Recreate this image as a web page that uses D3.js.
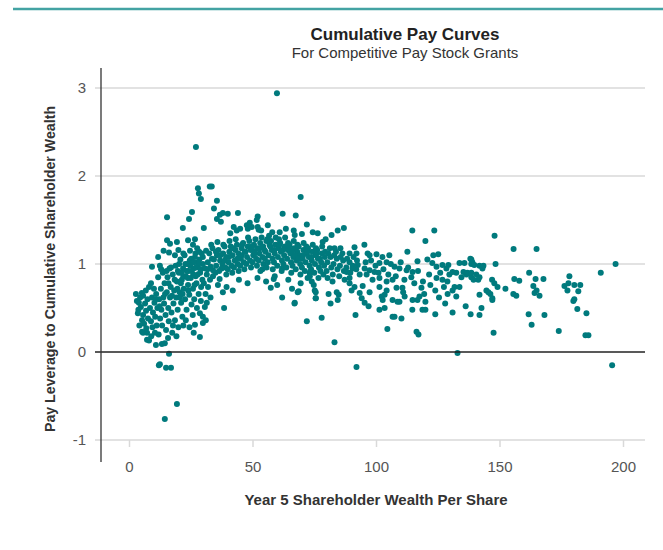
<!DOCTYPE html>
<html>
<head>
<meta charset="utf-8">
<script src="https://cdn.jsdelivr.net/npm/d3@7"></script>
<style>
  body { margin: 0; background: #fff; }
  text { font-family: "Liberation Sans", Arial, sans-serif; }
</style>
</head>
<body>
<div id="chart"></div>
<script>
// points, [wealth per share, pay leverage]
var lowWealth = [
  [2.8,0.66],[5.2,0.67],[5.7,0.64],[8.9,0.78],[8.1,0.74],[4.0,0.56],[4.8,0.51],[3.6,0.44],[5.7,0.42],[5.3,0.36],
  [6.1,0.32],[5.3,0.23],[5.7,0.22],[7.3,0.22],[7.3,0.14],[8.1,0.13],[10.9,0.08],[13.3,0.09],[14.5,0.10],[10.5,0.22],
  [15.8,0.16],[16.2,-0.02],[12.1,-0.15],[12.5,-0.14],[15.0,-0.18],[17.0,-0.18],[19.4,-0.59],[14.5,-0.76],[28.7,0.17],[29.9,0.33],
  [31.1,0.36],[28.7,0.44],[29.9,0.40],[26.7,0.31],
  [3.2,0.58],[3.8,0.48],[4.5,0.62],[4.2,0.30],[6.5,0.55],[6.9,0.47],[7.5,0.60],[7.7,0.38],[6.8,0.70],[7.0,0.27],
  [8.5,0.50],[8.9,0.35],[9.3,0.62],[9.7,0.45],[9.5,0.28],[9.0,0.18],[10.1,0.72],[10.3,0.56],[10.6,0.40],[11.0,0.66],
  [11.2,0.30],[11.5,0.50],[11.8,0.85],[12.0,0.20],[12.2,0.60],[12.6,0.38],[12.9,0.72],[13.1,0.48],[13.4,0.30],[13.7,0.90],
  [13.9,0.62],[14.2,0.55],[14.4,0.78],[14.8,0.42],[15.0,0.25],[15.3,0.68],[15.6,0.85],[15.9,0.50],[16.1,0.35],[16.4,0.95],
  [16.6,0.62],[16.9,0.74],[17.2,0.45],[17.5,0.22],[17.7,0.88],[18.0,0.55],[18.3,0.70],[18.6,0.36],[18.9,0.98],[19.1,0.62],
  [19.4,0.80],[19.7,0.48],[20.0,0.28],[20.2,0.90],[20.5,0.68],[20.8,1.05],[21.1,0.56],[21.4,0.82],[21.6,0.40],[21.9,0.95],
  [22.2,0.72],[22.5,1.10],[22.7,0.60],[23.0,0.86],[23.3,0.48],[23.6,1.00],[23.9,0.76],[24.1,0.92],[24.4,0.65],[24.7,1.15],
  [25.0,0.84],[25.3,0.54],[25.6,1.02],[25.9,0.72],[26.1,0.95],[26.4,0.60],[26.7,1.08],[27.0,0.86],[27.3,0.78],[27.6,1.18],
  [27.9,0.98],[28.2,0.66],[28.5,1.05],[28.8,0.90],[29.1,0.58],[29.4,1.12],[29.7,0.82],[29.9,1.00],
  [18.5,0.82],[19.8,0.92],[21.0,0.78],[22.0,0.86],[23.4,0.92],[24.8,0.98],[26.0,0.88],[27.2,0.96],[28.0,1.02],[29.0,0.94],
  [20.3,1.00],[22.8,1.00],[25.2,1.06],[26.9,1.12],[28.4,1.14],[21.7,0.66],[24.0,0.70],[26.5,0.76],[29.2,0.74],[23.0,0.36],
  [25.8,0.42],[27.5,0.50],[24.5,0.28],[22.0,0.30],[19.2,0.18],[17.8,0.30],[26.2,0.22],
  [10.8,0.60],[12.4,0.52],[14.6,0.66],[16.0,0.78],[17.4,0.64],[19.6,0.72],[21.2,0.90],[23.8,0.84],[25.4,0.92],[27.8,0.88],
  [17.0,0.96],[15.2,0.92],[20.6,0.62],[24.6,1.04],[26.2,1.02],
  [27.1,2.33],[27.9,1.86],[28.3,1.80],[29.1,1.74],[25.5,1.59],[24.3,1.51],[15.4,1.53],[21.8,1.41],[15.4,1.27],[16.6,1.23],
  [19.4,1.25],[23.9,1.27],[26.7,1.28],[25.9,1.22],[16.2,1.13],[9.3,0.97],[13.0,0.94],[14.0,1.15],[11.8,1.08],[20.0,1.16],
  [22.0,1.12],[12.5,0.98],[18.6,1.10]
];

var midWealth = [
  [32.7,1.88],[33.5,1.88],[35.6,1.72],[34.4,1.63],[69.5,1.76],[62.2,1.57],[67.5,1.55],[72.0,1.45],[76.4,1.35],[44.1,1.58],
  [36.8,1.56],[38.0,1.58],[40.0,1.57],[35.6,1.51],[37.2,1.48],[42.4,1.42],[43.6,1.38],[52.1,1.54],[51.7,1.50],[56.2,1.44],
  [47.7,1.44],[48.9,1.47],[48.1,1.40],[49.7,1.42],[52.1,1.42],[52.5,1.39],[66.7,1.38],[67.1,1.33],[61.0,1.36],[30.3,1.41],
  [57.4,0.73],[58.6,0.83],[59.0,0.86],[68.3,0.68],[67.1,0.56],[72.3,0.84],[73.1,0.90],[74.8,0.76],[75.6,0.68],[75.6,0.61],
  [38.0,0.68],[31.5,0.56],[30.7,0.51],[34.0,0.93],[54.0,0.94],[62.0,0.95],[67.0,0.55],[68.7,0.69],[72.0,0.35],[78.0,0.39],
  [74.4,1.36],[78.4,1.52],
  [30.3,0.78],[30.8,0.95],[29.9,1.08],[31.0,0.66],[31.5,0.88],[31.9,1.02],[31.2,1.15],[32.0,0.74],
  [32.8,0.82],[33.1,0.97],[32.5,1.12],[33.3,1.22],[34.0,0.86],[34.4,1.05],[33.8,1.18],[35.3,0.98],
  [35.6,1.10],[35.0,0.90],[35.8,1.25],[36.5,0.92],[36.9,1.04],[36.2,1.16],[36.7,0.83],[37.8,1.00],
  [38.1,1.12],[37.5,0.95],[38.2,1.22],[39.0,0.96],[39.3,1.08],[38.7,1.20],[39.4,0.88],[40.3,1.02],
  [40.6,1.14],[40.0,0.94],[40.7,1.26],[41.5,0.98],[41.9,1.10],[41.2,1.20],[41.8,0.90],[42.8,1.04],
  [43.1,1.16],[42.5,0.96],[43.2,1.28],[44.0,1.00],[44.3,1.12],[43.7,1.22],[44.4,0.92],[45.3,1.06],
  [45.6,1.18],[45.0,0.98],[45.7,1.10],[46.5,1.02],[46.9,1.14],[46.2,1.24],[46.7,0.94],[47.8,1.08],
  [48.1,1.20],[47.5,1.00],[48.2,1.30],[49.0,1.04],[49.3,1.16],[48.7,1.26],[49.4,0.96],[50.3,1.10],
  [50.6,1.22],[50.0,1.02],[50.7,1.14],[51.5,1.06],[51.9,1.18],[51.2,1.28],[51.8,0.98],[52.8,1.12],
  [53.1,1.24],[52.5,1.04],[53.2,0.92],[54.0,1.08],[54.3,1.20],[53.7,1.30],[54.4,1.00],[55.3,1.14],
  [55.6,1.26],[55.0,1.06],[55.7,0.96],[56.5,1.10],[56.9,1.22],[56.2,1.02],[56.7,1.32],[57.8,1.16],
  [58.1,1.06],[57.5,1.26],[58.2,0.94],[59.0,1.12],[59.3,1.22],[58.7,1.02],[59.4,1.30],[60.3,1.08],
  [60.6,1.18],[60.0,0.98],[60.7,1.28],[61.5,1.14],[61.9,1.04],[61.2,1.24],[61.8,0.92],[62.8,1.10],
  [63.1,1.20],[62.5,1.00],[63.2,1.30],[64.0,1.06],[64.3,1.16],[63.7,0.96],[64.4,1.24],[65.3,1.12],
  [65.6,1.02],[65.0,1.22],[65.7,0.90],[66.5,1.08],[66.9,1.18],[66.2,0.98],[66.7,1.26],[67.8,1.04],
  [68.1,1.14],[67.5,0.94],[68.2,1.22],[69.0,1.10],[69.3,1.00],[68.7,1.20],[69.4,0.88],[70.3,1.06],
  [70.6,1.16],[70.0,0.96],[70.7,1.24],[71.5,1.02],[71.9,1.12],[71.2,0.92],[71.8,1.20],[72.8,1.08],
  [73.1,0.98],[72.5,1.18],[73.2,0.86],[74.0,1.04],[74.3,1.14],[73.7,0.94],[74.4,1.22],[75.3,1.00],
  [75.6,1.10],[75.0,0.90],[75.7,1.18],[76.5,1.06],[76.9,0.96],[76.2,1.16],[76.7,0.84],[77.8,1.02],
  [78.1,1.12],[77.5,0.92],[78.2,1.20],[79.0,0.98],[79.3,1.08],[78.7,0.88],[79.4,1.14],
  [31.8,0.94],[33.6,1.06],[35.2,1.14],[37.0,1.10],[38.8,1.04],[40.5,1.08],[42.2,1.18],[43.9,1.06],[45.8,1.22],[47.2,1.14],
  [49.8,1.20],[51.0,1.12],[52.9,1.18],[54.8,1.16],[56.0,1.28],[57.2,1.20],[58.8,1.16],[60.9,1.22],[62.2,1.16],[64.8,1.18],
  [66.0,1.14],[67.2,1.10],[68.6,1.06],[70.5,1.10],[72.2,1.14],[73.8,1.08],[76.0,1.12],[77.3,1.06],
  [41.0,1.35],[45.0,1.40],[53.5,1.38],[58.0,1.36],[63.5,1.40],[70.0,1.34],[44.5,0.82],[48.0,0.78],[52.0,0.84],[55.5,0.80],
  [60.0,0.76],[64.5,0.82],[69.5,0.78],[74.0,0.80],[39.5,0.74],[36.0,0.76],[33.0,0.62],[38.5,0.50],[42.0,0.70],[62.0,0.62],
  [66.0,0.72],[75.2,0.70],[75.6,0.61]
];

var highWealth = [
  [80.3,1.02],[80.7,1.12],[80.0,0.92],[81.6,1.08],[81.9,0.96],[81.3,1.18],[82.8,1.00],[83.1,1.10],[82.5,0.88],
  [84.1,1.06],[84.4,0.94],[83.8,1.14],[85.4,0.98],[85.7,1.08],[85.1,0.86],[86.7,1.04],[87.0,0.92],[86.4,1.12],
  [88.0,0.96],[88.3,1.06],[89.3,1.02],[89.6,0.90],[90.6,0.98],[90.9,1.08],[92.0,0.94],[92.3,1.04],
  [82.0,1.33],[84.5,1.38],[87.0,1.41],[79.6,1.28],[78.4,1.25],[83.2,1.18],[85.6,1.18],[91.3,1.19],[95.3,1.22],[89.3,1.12],
  [92.1,1.12],[96.6,1.12],[97.4,1.10],[100.2,1.11],[102.6,1.08],[105.4,1.10],[112.7,1.14],[120.0,1.26],[114.7,1.38],[123.6,1.38],
  [116.8,1.03],[120.8,1.05],[123.2,1.10],[125.2,1.11],[122.8,1.01],[124.5,0.97],[126.9,0.99],[101.4,1.01],[104.3,1.02],[107.5,0.97],
  [109.5,0.95],[112.4,0.93],[114.8,0.91],[114.3,0.85],[95.4,0.95],[97.4,0.93],[99.4,0.91],[93.4,0.88],[96.2,0.88],[98.6,0.82],
  [101.4,0.84],[104.3,0.80],[106.7,0.82],[88.1,0.91],[90.5,0.95],[92.6,0.99],[89.3,0.84],[87.3,0.82],[94.6,0.75],[97.4,0.68],
  [101.4,0.74],[104.3,0.70],[108.3,0.73],[110.7,0.73],[111.6,0.63],[114.8,0.59],[116.8,0.59],[117.6,0.63],[118.4,0.73],[93.4,0.67],
  [94.2,0.61],[95.4,0.56],[102.3,0.63],[103.5,0.65],[102.7,0.59],[106.7,0.59],[108.7,0.57],[89.3,0.78],[90.1,0.70],[91.3,0.74],
  [84.1,0.68],[84.5,0.59],[84.9,0.65],[80.8,0.66],[82.4,0.80],[80.4,0.84],[120.0,0.57],[120.0,0.48],[124.5,0.84],[126.9,0.82],
  [128.9,0.80],[129.7,0.88],[131.0,0.91],[132.5,0.90],[134.6,0.85],[136.6,0.88],[138.6,0.85],[131.0,0.70],[131.8,0.74],[132.5,0.63],
  [133.8,1.01],[135.8,1.01],[129.3,0.99],[128.5,0.95],
  [95.8,1.02],[98.0,1.04],[99.8,0.98],[101.0,0.90],[103.0,0.94],[105.0,0.88],[106.0,1.00],[108.0,0.86],[110.0,1.02],[111.5,0.82],
  [113.0,0.96],[115.5,0.78],[117.0,0.92],[119.0,0.80],[121.5,0.88],[122.0,0.76],[124.0,0.70],[126.0,0.90],[127.5,0.74],[129.0,0.66],
  [103.5,0.50],[97.0,0.52],[111.0,0.68],[119.5,0.66],[125.5,0.62],[128.0,0.55],
  [101.4,0.48],[104.6,0.26],[106.7,0.40],[107.5,0.40],[110.3,0.38],[116.4,0.23],[117.2,0.20],[109.5,0.57],[118.8,0.48],[114.7,0.48],
  [124.0,0.43],[131.0,0.45],[91.7,0.42],[83.2,0.11],[92.1,-0.17],[81.6,0.55],[133.0,-0.01],[133.8,0.74]
];

var topWealth = [
  [148.0,1.32],[155.7,1.17],[165.0,1.17],[197.0,1.00],[191.0,0.90],[178.3,0.86],[147.6,0.22],[174.0,0.24],[184.8,0.19],[186.0,0.19],
  [163.0,0.31],[161.8,0.43],[168.2,0.42],[138.3,0.43],[141.9,0.42],[136.3,0.52],[142.7,0.50],[181.5,0.49],[185.2,0.44],[179.9,0.58],
  [180.3,0.60],[167.8,0.83],[164.6,0.83],[162.0,0.90],[163.7,0.75],[165.0,0.70],[166.2,0.64],[164.2,0.67],[156.0,0.83],[158.0,0.81],
  [155.6,0.66],[156.8,0.64],[152.4,0.72],[148.4,1.00],[147.0,0.82],[147.9,0.78],[149.2,0.74],[144.7,0.70],[145.5,0.68],[146.3,0.66],
  [147.1,0.61],[147.1,0.59],[141.9,0.65],[141.9,0.85],[139.5,0.82],[135.4,0.91],[137.0,0.90],[138.6,0.90],[138.2,1.06],[139.0,1.02],
  [138.6,1.00],[141.9,0.98],[143.1,0.95],[143.5,0.98],[176.3,0.75],[177.9,0.78],[180.3,0.76],[182.7,0.76],[181.9,0.69],[177.5,0.70],
  [195.6,-0.15],[140.6,0.88],[141.4,0.82],[138.6,1.05],[139.8,0.99]
];

// single outlier far above the rest
var outliers = [[59.9,2.94]];

var xTicks = [0, 50, 100, 150, 200];
var yTicks = [-1, 0, 1, 2, 3];

var W = 663, H = 550;
var teal = "#007a7d";

var svg = d3.select("#chart").append("svg")
  .attr("width", W)
  .attr("height", H);

// teal rule across the top
svg.append("line")
  .attr("x1", 13).attr("x2", W)
  .attr("y1", 9).attr("y2", 9)
  .attr("stroke", "#43a3a3")
  .attr("stroke-width", 2.5);

var x = d3.scaleLinear().domain([0, 200]).range([129, 623]);
var y = d3.scaleLinear().domain([-1, 3]).range([440, 88]);

var plotLeft = 95, plotRight = 645;

// gridlines
svg.append("g").selectAll("line")
  .data(yTicks.filter(d => d !== 0))
  .enter().append("line")
  .attr("x1", plotLeft).attr("x2", plotRight)
  .attr("y1", d => y(d)).attr("y2", d => y(d))
  .attr("stroke", "#d9d9d9")
  .attr("stroke-width", 1.5);

// x axis ticks hang below the -1 gridline
var xAxis = svg.append("g")
  .attr("transform", "translate(0," + y(-1) + ")")
  .call(d3.axisBottom(x).tickValues(xTicks).tickSize(7).tickPadding(14));
xAxis.select(".domain").remove();
xAxis.selectAll(".tick line").attr("stroke", "#d9d9d9").attr("stroke-width", 1.5);
xAxis.selectAll(".tick text")
  .attr("fill", "#555")
  .style("font-size", "15px");

var yAxis = svg.append("g")
  .attr("transform", "translate(86,0)")
  .call(d3.axisLeft(y).tickValues(yTicks).tickSize(0).tickPadding(0)
    .tickFormat(d => String(d)));
yAxis.select(".domain").remove();
yAxis.selectAll(".tick text")
  .attr("fill", "#555")
  .style("font-size", "15px");

// points
var allPoints = lowWealth.concat(midWealth, highWealth, topWealth, outliers);
svg.append("g").selectAll("circle")
  .data(allPoints)
  .enter().append("circle")
  .attr("cx", d => x(d[0]))
  .attr("cy", d => y(d[1]))
  .attr("r", 3)
  .attr("fill", teal);

// zero line and vertical axis on top
svg.append("line")
  .attr("x1", plotLeft).attr("x2", plotRight)
  .attr("y1", y(0)).attr("y2", y(0))
  .attr("stroke", "#222")
  .attr("stroke-width", 1.3);

svg.append("line")
  .attr("x1", 101).attr("x2", 101)
  .attr("y1", 68).attr("y2", 462)
  .attr("stroke", "#333")
  .attr("stroke-width", 1.3);

// titles
svg.append("text")
  .attr("x", 405).attr("y", 40)
  .attr("text-anchor", "middle")
  .attr("font-weight", "bold")
  .attr("font-size", "17px")
  .attr("fill", "#222")
  .text("Cumulative Pay Curves");

svg.append("text")
  .attr("x", 405).attr("y", 58)
  .attr("text-anchor", "middle")
  .attr("font-size", "15px")
  .attr("fill", "#333")
  .text("For Competitive Pay Stock Grants");

svg.append("text")
  .attr("x", 376).attr("y", 505)
  .attr("text-anchor", "middle")
  .attr("font-weight", "bold")
  .attr("font-size", "15px")
  .attr("fill", "#333")
  .text("Year 5 Shareholder Wealth Per Share");

svg.append("g")
  .attr("transform", "translate(55,269)")
  .append("text")
  .attr("transform", "rotate(-90)")
  .attr("text-anchor", "middle")
  .attr("font-weight", "bold")
  .attr("font-size", "14.2px")
  .attr("fill", "#333")
  .text("Pay Leverage to Cumulative Shareholder Wealth");
</script>
</body>
</html>
